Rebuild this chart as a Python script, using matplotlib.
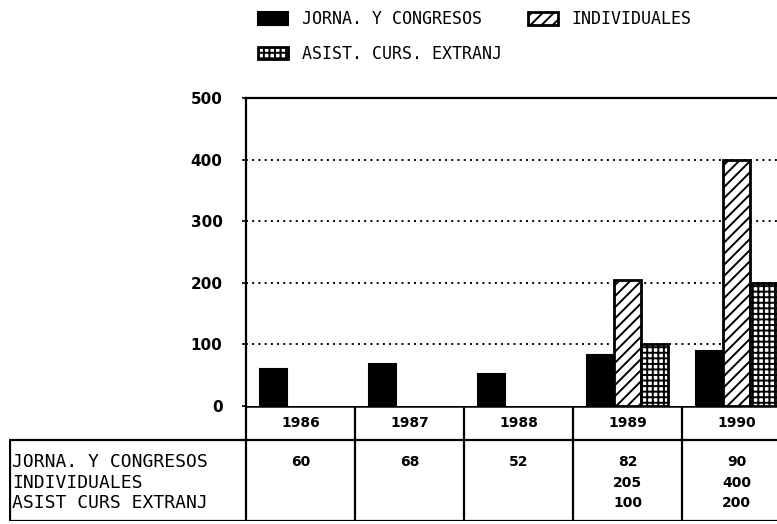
import numpy as np
import matplotlib
matplotlib.use("Agg")
import matplotlib.pyplot as plt

# data
years = ["1986", "1987", "1988", "1989", "1990"]
jornadas = [60, 68, 52, 82, 90]
individuales = [np.nan, np.nan, np.nan, 205, 400]
asist_extranj = [np.nan, np.nan, np.nan, 100, 200]

series_names = ["JORNA. Y CONGRESOS", "INDIVIDUALES", "ASIST. CURS. EXTRANJ"]
row_labels = ["JORNA. Y CONGRESOS", "INDIVIDUALES", "ASIST CURS EXTRANJ"]
yticks = [0, 100, 200, 300, 400, 500]

plt.rcParams["font.family"] = "DejaVu Sans"
plt.rcParams["hatch.linewidth"] = 1.4

W, H = 777, 524
fig = plt.figure(figsize=(W / 100, H / 100), dpi=100)

# main plot, the right end runs past the edge like in the scan
ax_l, ax_r, ax_t, ax_b = 246, 791, 98, 406
ax = fig.add_axes([ax_l / W, 1 - ax_b / H, (ax_r - ax_l) / W, (ax_b - ax_t) / H])

x = np.arange(len(years))
w = 0.25
b1 = ax.bar(x - w, jornadas, w, color="black", edgecolor="black", lw=1.5)
b2 = ax.bar(x, individuales, w, color="white", edgecolor="black", lw=2, hatch="///")
b3 = ax.bar(x + w, asist_extranj, w, color="white", edgecolor="black", lw=2, hatch="+++")

ax.set_xlim(-0.5, len(years) - 0.5)
ax.set_ylim(0, 500)
ax.set_yticks(yticks)
ax.set_yticklabels([str(v) for v in yticks], fontsize=11, fontweight="bold")
ax.set_xticks([])
ax.tick_params(axis="y", length=3, width=1.2, pad=14)
for v in yticks[1:-1]:
    ax.axhline(v, color="black", ls=(0, (1, 2.2)), lw=1.4, zorder=0)
ax.spines["right"].set_visible(False)
ax.spines["bottom"].set_visible(False)
for s in ["left", "top"]:
    ax.spines[s].set_linewidth(1.6)

ax.legend([b1, b3, b2], [series_names[0], series_names[2], series_names[1]],
          ncol=2, loc="upper left", bbox_to_anchor=(250 / W, 1 - 2 / H),
          bbox_transform=fig.transFigure, frameon=False,
          prop={"family": "DejaVu Sans Mono", "size": 12},
          handlelength=1.8, handleheight=0.75, handletextpad=0.8,
          columnspacing=1.6, labelspacing=1.0, borderpad=0)

# data table under the axis
tb_l, tb_b = 9, 521
tab = fig.add_axes([tb_l / W, 1 - tb_b / H, (ax_r - tb_l) / W, (tb_b - ax_b) / H])
left_x = -0.5 - (ax_l - tb_l) / (ax_r - ax_l) * len(years)
tab.set_xlim(left_x, len(years) - 0.5)
tab.set_ylim(115, 0)
tab.axis("off")

tab.hlines([0], -0.5, len(years) - 0.5, color="black", lw=1.8)
tab.hlines([34, 115], left_x, len(years) - 0.5, color="black", lw=1.6)
tab.vlines(np.arange(len(years)) - 0.5, 0, 115, color="black", lw=1.6)
tab.vlines([left_x + 0.005], 34, 115, color="black", lw=1.6)

row_y = [56, 77, 97]
for i, yr in enumerate(years):
    tab.text(i, 17, yr, ha="center", va="center", fontsize=10, fontweight="bold")
for r, vals in enumerate([jornadas, individuales, asist_extranj]):
    tab.text(left_x + 0.03, row_y[r], row_labels[r], ha="left", va="center",
             fontsize=13, family="DejaVu Sans Mono")
    for i, v in enumerate(vals):
        if not np.isnan(v):
            tab.text(i, row_y[r], f"{v:.0f}", ha="center", va="center",
                     fontsize=10, fontweight="bold")

fig.savefig("out.png", dpi=100)
